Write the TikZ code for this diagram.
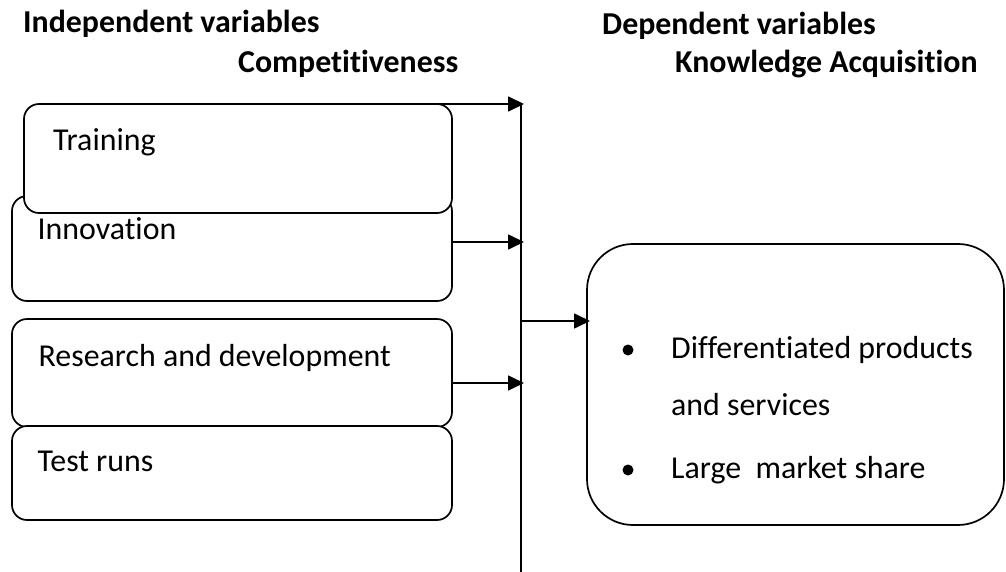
\documentclass[tikz,border=0pt]{standalone}
\usepackage{fontspec}
\setmainfont[Ligatures=NoCommon]{Carlito}
\usetikzlibrary{arrows.meta}

\tikzset{
  varbox/.style={draw, line width=1.7bp, rounded corners=15bp, fill=white, inner sep=0pt, outer sep=0pt},
  outbox/.style={draw, line width=1.7bp, rounded corners=46bp, inner sep=0pt, outer sep=0pt},
  link/.style={line width=1.7bp, -{Triangle[length=16bp,width=15bp]}, shorten >=-3bp},
  txt/.style={anchor=base west, inner sep=0pt, font=\fontsize{32}{38}\selectfont},
  head/.style={txt, font=\fontsize{32}{38}\selectfont\bfseries},
  dot/.style={circle, fill=black, inner sep=0pt, minimum size=11bp},
}

\begin{document}
\begin{tikzpicture}[x=1bp, y=-1bp]
  \useasboundingbox (0,0) rectangle (1006,572);

  % headings
  \node[head] (indep) at (23,33) {Independent variables};
  \node[head] (compet) at (238,73) {Competitiveness};
  \node[head] (dep) at (602,35) {Dependent variables};
  \node[head] (knowl) at (675,73) {Knowledge Acquisition};

  % independent variables (innovation first, training sits over it)
  \node[varbox, minimum width=440bp, minimum height=105bp] (innovation) at (232,248.5) {};
  \node[varbox, minimum width=428bp, minimum height=109bp] (training) at (238,158.5) {};
  \node[varbox, minimum width=440bp, minimum height=108bp] (research) at (232,373) {};
  \node[varbox, minimum width=440bp, minimum height=94bp] (testruns) at (232,473) {};

  \node[txt] (traininglbl) at (53,151) {Training};
  \node[txt] (innovationlbl) at (37.5,240) {Innovation};
  \node[txt] (researchlbl) at (38.5,366) {Research and development};
  \node[txt] (testrunslbl) at (37.5,471) {Test runs};

  % dependent variable
  \node[outbox, minimum width=417bp, minimum height=281bp] (outcome) at (795.5,384.5) {};
  \node[dot] (bulleta) at (628,350) {};
  \node[txt] (itema) at (671,358) {Differentiated products};
  \node[txt] (itemb) at (671,415) {and services};
  \node[dot] (bulletb) at (628,470) {};
  \node[txt] (itemc) at (671,478) {Large~ market share};

  % collecting line
  \coordinate (spinetop) at (521,104);
  \coordinate (spinebot) at (521,572);
  \coordinate (hub) at (521,321);
  \draw[line width=1.7bp] (spinetop) -- (spinebot);

  \draw[link] (training.north) -- (training.north -| spinetop);
  \draw[link] ([yshift=6.5bp]innovation.east) -- ([yshift=6.5bp]innovation.east -| spinetop);
  \draw[link] ([yshift=-10bp]research.east) -- ([yshift=-10bp]research.east -| spinetop);
  \draw[link] (hub) -- (hub -| outcome.west);
\end{tikzpicture}
\end{document}
